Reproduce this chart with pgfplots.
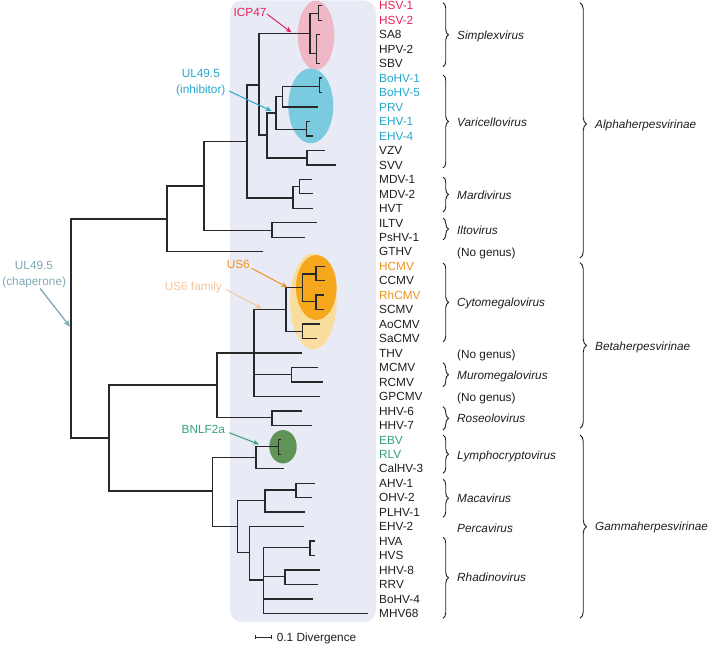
\documentclass[border=0pt]{standalone}
\usepackage{fontspec}
\setmainfont{Liberation Sans}
\usepackage{pgfplots}
\pgfplotsset{compat=1.18}
\usetikzlibrary{arrows.meta,decorations.pathreplacing}

\definecolor{bgc}{RGB}{232,235,245}
\definecolor{pinkc}{RGB}{240,184,198}
\definecolor{bluec}{RGB}{122,203,223}
\definecolor{lorc}{RGB}{249,221,158}
\definecolor{orc}{RGB}{245,168,30}
\definecolor{grc}{RGB}{96,148,86}
\definecolor{hsvc}{RGB}{228,36,92}
\definecolor{tealc}{RGB}{38,166,204}
\definecolor{orangetxt}{RGB}{240,146,30}
\definecolor{greentxt}{RGB}{52,162,118}
\definecolor{chapc}{RGB}{128,168,180}
\definecolor{us6fc}{RGB}{246,196,155}
\definecolor{treec}{RGB}{40,40,40}
\definecolor{txt}{RGB}{30,30,30}

\newcommand\leaf[3]{\node[anchor=base west, inner sep=0pt, yshift=-4.2bp, text=#3] at (axis cs:379,#1) {#2};}
\newcommand\genus[2]{\node[anchor=base west, inner sep=0pt, yshift=-4.2bp, text=txt, font=\itshape] at (axis cs:457,#1) {#2};}
\newcommand\nogenus[1]{\node[anchor=base west, inner sep=0pt, yshift=-4.2bp, text=txt] at (axis cs:457,#1) {(No genus)};}
\newcommand\gbrace[2]{\draw[txt, line width=0.9bp, decorate, decoration={brace, amplitude=5.5bp}] (axis cs:443,#1) -- (axis cs:443,#2);}
\newcommand\ctext[4]{\node[anchor=base, inner sep=0pt, yshift=-4.2bp, text=#4] at (axis cs:#1,#2) {#3};}

\begin{document}
\fontsize{11.8bp}{14bp}\selectfont
\begin{tikzpicture}
\begin{axis}[scale only axis, width=710bp, height=644bp,
  xmin=0, xmax=710, ymin=0, ymax=644, y dir=reverse,
  hide axis, clip=false, unbounded coords=jump]

% background panel
\fill[bgc, rounded corners=12bp] (axis cs:230,0.5) rectangle (axis cs:376,622);

% highlight ellipses
\fill[pinkc] (axis cs:316,35.3) ellipse [x radius=18.3bp, y radius=34.7bp];
\fill[bluec] (axis cs:310.8,105.8) ellipse [x radius=22.5bp, y radius=37.5bp];
\fill[lorc] (axis cs:313.3,301.3) ellipse [x radius=23.3bp, y radius=48bp];
\fill[orc] (axis cs:316.3,287.5) ellipse [x radius=20.3bp, y radius=32.5bp];
\fill[grc] (axis cs:283,446.7) ellipse [x radius=13.7bp, y radius=16.7bp];

% tree branches (pixel-space coordinates, y downward)
\addplot[treec, line width=1.25bp, mark=none] coordinates {
(167,219) (71,219) (71,438) (109,438) (nan,nan)
(204,186) (167,186) (167,251.7) (263,251.7) (nan,nan)
(247,141.7) (204,141.7) (204,230.7) (272,230.7) (nan,nan)
(316.7,222.8) (272,222.8) (272,237.2) (305,237.2) (nan,nan)
(259,85) (247,85) (247,198) (293,198) (nan,nan)
(299.3,186.5) (293,186.5) (293,208.3) (313,208.3) (nan,nan)
(312,179.3) (299.3,179.3) (299.3,193.8) (313,193.8) (nan,nan)
(310,33.3) (259,33.3) (259,135) (267,135) (nan,nan)
(318.3,13.3) (310,13.3) (310,53.3) (316.7,53.3) (nan,nan)
(321.5,5.7) (318.3,5.7) (318.3,20.2) (321.5,20.2) (nan,nan)
(319.5,34.6) (316.7,34.6) (316.7,63.6) (319.5,63.6) (nan,nan)
(276,113) (267,113) (267,158) (307,158) (nan,nan)
(325,150.4) (307,150.4) (307,164.9) (336,164.9) (nan,nan)
(282.7,96.7) (276,96.7) (276,129.3) (306.7,129.3) (nan,nan)
(319.3,86.3) (282.7,86.3) (282.7,107) (318.3,107) (nan,nan)
(322,78.1) (319.3,78.1) (319.3,92.5) (322,92.5) (nan,nan)
(309.5,121.5) (306.7,121.5) (306.7,135.9) (312.7,135.9) (nan,nan)
(217,385) (109,385) (109,491) (212.3,491) (nan,nan)
(254,353) (217,353) (217,417.3) (272,417.3) (nan,nan)
(286,309.3) (254,309.3) (254,396.4) (320,396.4) (nan,nan)
(254,353) (301.7,353) (nan,nan)
(254,374.3) (291.7,374.3) (nan,nan)
(318.3,367.5) (291.7,367.5) (291.7,381.9) (323.3,381.9) (nan,nan)
(302.7,287.7) (286,287.7) (286,331.7) (302.7,331.7) (nan,nan)
(316,274) (302.7,274) (302.7,301.7) (316,301.7) (nan,nan)
(325,266.2) (316,266.2) (316,280.6) (325,280.6) (nan,nan)
(324,295.1) (316,295.1) (316,309.6) (324,309.6) (nan,nan)
(320,324) (302.7,324) (302.7,338.5) (316.7,338.5) (nan,nan)
(301.7,410.9) (272,410.9) (272,425.3) (311.7,425.3) (nan,nan)
(256,457.7) (212.3,457.7) (212.3,526.7) (237.3,526.7) (nan,nan)
(278.3,446.7) (256,446.7) (256,468.7) (284.3,468.7) (nan,nan)
(281,439.8) (278.3,439.8) (278.3,454.3) (281,454.3) (nan,nan)
(265,500.7) (237.3,500.7) (237.3,552.7) (249.3,552.7) (nan,nan)
(296,490) (265,490) (265,512.1) (305,512.1) (nan,nan)
(315,483.2) (296,483.2) (296,497.7) (311.7,497.7) (nan,nan)
(304.3,526.6) (249.3,526.6) (249.3,580) (263.3,580) (nan,nan)
(310,547.7) (263.3,547.7) (263.3,613.4) (368.3,613.4) (nan,nan)
(263.3,576.7) (285,576.7) (nan,nan)
(263.3,599) (313.3,599) (nan,nan)
(315,541.1) (310,541.1) (310,555.6) (315,555.6) (nan,nan)
(320,570) (285,570) (285,584.5) (318.3,584.5)
};

% scale bar
\addplot[treec, line width=1bp, mark=none] coordinates {
(255,635.3) (255,639.3) (nan,nan) (255,637.3) (271.7,637.3) (nan,nan) (271.7,635.3) (271.7,639.3)};
\node[anchor=base west, inner sep=0pt, yshift=-4.2bp, text=txt] at (axis cs:276.7,637) {0.1 Divergence};

% leaf labels
\leaf{5.7}{HSV-1}{hsvc}
\leaf{20.2}{HSV-2}{hsvc}
\leaf{34.6}{SA8}{txt}
\leaf{49.1}{HPV-2}{txt}
\leaf{63.6}{SBV}{txt}
\leaf{78.1}{BoHV-1}{tealc}
\leaf{92.5}{BoHV-5}{tealc}
\leaf{107.0}{PRV}{tealc}
\leaf{121.5}{EHV-1}{tealc}
\leaf{135.9}{EHV-4}{tealc}
\leaf{150.4}{VZV}{txt}
\leaf{164.9}{SVV}{txt}
\leaf{179.3}{MDV-1}{txt}
\leaf{193.8}{MDV-2}{txt}
\leaf{208.3}{HVT}{txt}
\leaf{222.8}{ILTV}{txt}
\leaf{237.2}{PsHV-1}{txt}
\leaf{251.7}{GTHV}{txt}
\leaf{266.2}{HCMV}{orangetxt}
\leaf{280.6}{CCMV}{txt}
\leaf{295.1}{RhCMV}{orangetxt}
\leaf{309.6}{SCMV}{txt}
\leaf{324.0}{AoCMV}{txt}
\leaf{338.5}{SaCMV}{txt}
\leaf{353.0}{THV}{txt}
\leaf{367.5}{MCMV}{txt}
\leaf{381.9}{RCMV}{txt}
\leaf{396.4}{GPCMV}{txt}
\leaf{410.9}{HHV-6}{txt}
\leaf{425.3}{HHV-7}{txt}
\leaf{439.8}{EBV}{greentxt}
\leaf{454.3}{RLV}{greentxt}
\leaf{468.7}{CalHV-3}{txt}
\leaf{483.2}{AHV-1}{txt}
\leaf{497.7}{OHV-2}{txt}
\leaf{512.1}{PLHV-1}{txt}
\leaf{526.6}{EHV-2}{txt}
\leaf{541.1}{HVA}{txt}
\leaf{555.6}{HVS}{txt}
\leaf{570.0}{HHV-8}{txt}
\leaf{584.5}{RRV}{txt}
\leaf{599.0}{BoHV-4}{txt}
\leaf{613.4}{MHV68}{txt}

% genus braces and names
\gbrace{2.7}{66.7}
\gbrace{75}{168}
\gbrace{177}{212}
\gbrace{218}{240}
\gbrace{263}{341.7}
\gbrace{362.7}{386.7}
\gbrace{406.7}{430}
\gbrace{435}{473.3}
\gbrace{479.3}{517.3}
\gbrace{537.3}{618.3}
\genus{35}{Simplexvirus}
\genus{122}{Varicellovirus}
\genus{195}{Mardivirus}
\genus{230}{Iltovirus}
\nogenus{252}
\genus{302.7}{Cytomegalovirus}
\nogenus{354}
\genus{375}{Muromegalovirus}
\nogenus{397.5}
\genus{418.3}{Roseolovirus}
\genus{455}{Lymphocryptovirus}
\genus{498.3}{Macavirus}
\genus{528.3}{Percavirus}
\genus{577.7}{Rhadinovirus}

% subfamily braces
\draw[txt, line width=0.9bp, decorate, decoration={brace, amplitude=6.5bp, aspect=0.475}] (axis cs:580,2.7) -- (axis cs:580,258);
\draw[txt, line width=0.9bp, decorate, decoration={brace, amplitude=6.5bp}] (axis cs:580,262.7) -- (axis cs:580,428.3);
\draw[txt, line width=0.9bp, decorate, decoration={brace, amplitude=6.5bp}] (axis cs:580,435) -- (axis cs:580,618.3);
\node[anchor=base west, inner sep=0pt, yshift=-4.2bp, text=txt, font=\itshape] at (axis cs:595,124) {Alphaherpesvirinae};
\node[anchor=base west, inner sep=0pt, yshift=-4.2bp, text=txt, font=\itshape] at (axis cs:595,346) {Betaherpesvirinae};
\node[anchor=base west, inner sep=0pt, yshift=-4.2bp, text=txt, font=\itshape] at (axis cs:595,526.7) {Gammaherpesvirinae};

% annotations
\ctext{250}{12}{ICP47}{hsvc}
\draw[hsvc, line width=1bp, -{Stealth[length=6bp,width=5bp]}] (axis cs:267,14) -- (axis cs:291.5,32.5);
\ctext{200.8}{73.3}{UL49.5}{tealc}
\ctext{200.8}{89.3}{(inhibitor)}{tealc}
\draw[tealc, line width=1bp, -{Stealth[length=6bp,width=5bp]}] (axis cs:229,91) -- (axis cs:271.5,111);
\ctext{34}{265.7}{UL49.5}{chapc}
\ctext{34.2}{281}{(chaperone)}{chapc}
\draw[chapc, line width=1.3bp, -{Stealth[length=7bp,width=6bp]}] (axis cs:40,288.3) -- (axis cs:70,326.7);
\ctext{238.3}{264.3}{US6}{orangetxt}
\draw[orangetxt, line width=1bp, -{Stealth[length=6bp,width=5bp]}] (axis cs:251.7,268.3) -- (axis cs:287.3,287.3);
\ctext{193.3}{286}{US6 family}{us6fc}
\draw[us6fc, line width=1bp, -{Stealth[length=6bp,width=5bp]}] (axis cs:225.7,289.3) -- (axis cs:261.7,308.3);
\ctext{203.3}{429.3}{BNLF2a}{greentxt}
\draw[greentxt, line width=1bp, -{Stealth[length=6bp,width=5bp]}] (axis cs:229.3,432.7) -- (axis cs:259,444.3);

\end{axis}
\pgfresetboundingbox
\path[use as bounding box] (current axis.south west) rectangle (current axis.north east);
\end{tikzpicture}
\end{document}
